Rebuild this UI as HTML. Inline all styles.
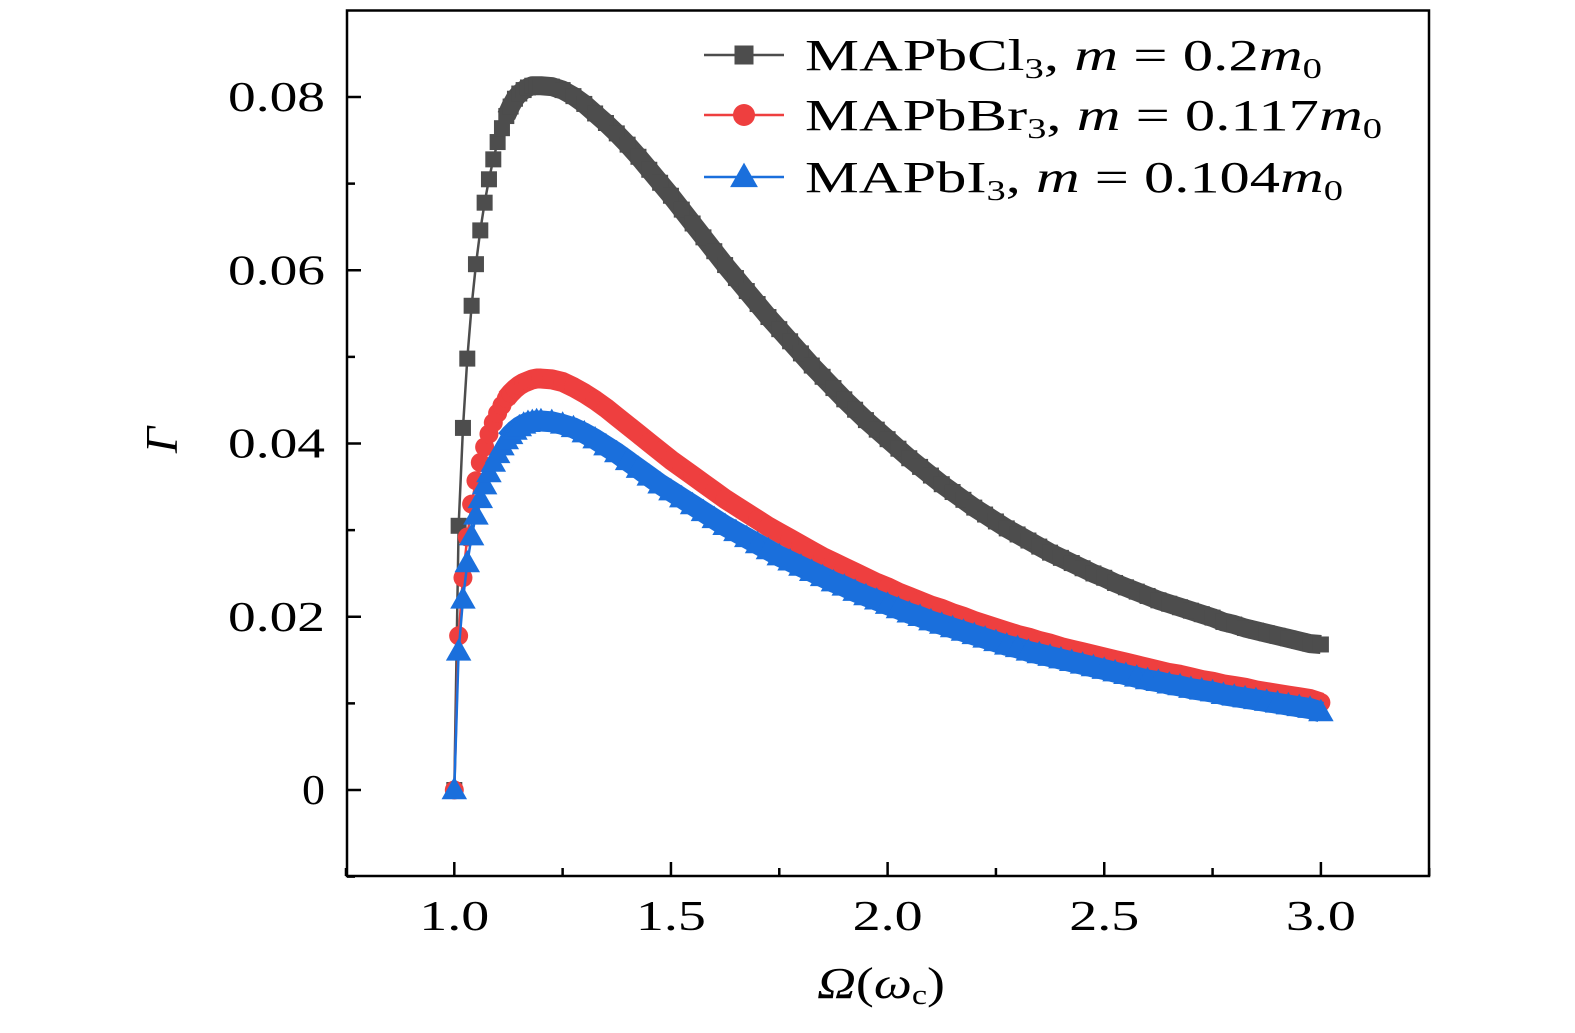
<!DOCTYPE html>
<html><head><meta charset="utf-8"><style>
html,body{margin:0;padding:0;background:#fff;overflow:hidden;width:1575px;height:1033px}
svg{display:block;font-family:"Liberation Serif","DejaVu Serif",serif}
</style></head><body>
<svg id="chart" width="1575" height="1033" viewBox="0 0 1575 1033" xmlns="http://www.w3.org/2000/svg">
<g id="axes"></g>
<g id="series"></g>
<g id="legend"></g>
</svg>
<script>
const omega = [1.00,1.01,1.02,1.03,1.04,1.05,1.06,1.07,1.08,1.09,1.10,1.11,1.12,1.13,1.14,1.15,1.16,1.17,1.18,1.19,1.20,
1.225,1.25,1.275,1.30,1.325,1.35,1.375,1.40,1.425,1.45,1.475,1.50,1.525,1.55,1.575,1.60,1.625,1.65,1.675,1.70,1.725,1.75,1.775,1.80,1.825,1.85,1.875,1.90,1.925,1.95,1.975,2.00,2.025,2.05,2.075,2.10,2.125,2.15,2.175,2.20,2.225,2.25,2.275,2.30,2.325,2.35,2.375,2.40,2.425,2.45,2.475,2.50,2.525,2.55,2.575,2.60,2.625,2.65,2.675,2.70,2.725,2.75,2.775,2.80,2.825,2.85,2.875,2.90,2.925,2.95,2.975,3.00];
const gammaCl = [0,.0305,.0418,.0498,.0559,.0607,.0646,.0678,.0705,.0728,.0748,.0764,.0778,.0789,.0798,.0804,.0808,.0811,.0813,.0813,.0813,
.0812,.0808,.0801,.0792,.0781,.0770,.0758,.0745,.0731,.0716,.0701,.0686,.0670,.0654,.0638,.0622,.0606,.0591,.0576,.0561,.0546,.0532,.0518,.0504,.0490,.0477,.0464,.0451,.0439,.0427,.0416,.0405,.0394,.0383,.0373,.0363,.0353,.0344,.0335,.0326,.0318,.0310,.0302,.0295,.0288,.0281,.0274,.0268,.0262,.0256,.0250,.0245,.0239,.0234,.0229,.0224,.0219,.0215,.0211,.0207,.0203,.0199,.0194,.0191,.0187,.0184,.0181,.0178,.0175,.0172,.0169,.0168];
const gammaBr = [0,.0178,.0245,.0292,.0330,.0357,.0378,.0396,.0411,.0424,.0435,.0444,.0452,.0458,.0463,.0467,.0470,.0472,.0474,.0475,.0475,
.0474,.0471,.0465,.0458,.0450,.0441,.0431,.0421,.0411,.0401,.0391,.0381,.0372,.0363,.0354,.0345,.0336,.0328,.0320,.0312,.0304,.0297,.0290,.0283,.0276,.0269,.0263,.0257,.0251,.0245,.0239,.0234,.0228,.0223,.0218,.0213,.0209,.0204,.0200,.0195,.0191,.0187,.0183,.0179,.0176,.0172,.0169,.0165,.0162,.0159,.0156,.0153,.0150,.0147,.0144,.0141,.0138,.0135,.0133,.0130,.0127,.0125,.0122,.0120,.0118,.0115,.0113,.0111,.0109,.0107,.0105,.0101];
const gammaI = [0,.0160,.0220,.0262,.0293,.0317,.0336,.0352,.0366,.0378,.0388,.0397,.0404,.0410,.0415,.0419,.0422,.0424,.0425,.0426,.0426,
.0425,.0422,.0418,.0412,.0405,.0397,.0389,.0380,.0371,.0362,.0353,.0345,.0337,.0329,.0321,.0313,.0305,.0298,.0291,.0284,.0277,.0270,.0264,.0258,.0252,.0246,.0240,.0235,.0229,.0224,.0219,.0214,.0209,.0204,.0200,.0195,.0191,.0187,.0183,.0179,.0175,.0171,.0167,.0164,.0160,.0157,.0154,.0151,.0148,.0145,.0142,.0139,.0136,.0133,.0130,.0127,.0125,.0122,.0120,.0117,.0115,.0113,.0110,.0108,.0106,.0104,.0102,.0100,.0098,.0096,.0094,.0090];
const xTicks = [1.0,1.5,2.0,2.5,3.0];
const xTickLabels = ["1.0","1.5","2.0","2.5","3.0"];
const yTicks = [0,0.02,0.04,0.06,0.08];
const yTickLabels = ["0","0.02","0.04","0.06","0.08"];

const NS="http://www.w3.org/2000/svg";
const L=347,R=1429,T=10.5,B=876;
function xs(v){return 454.3+(v-1)*433.3;}
function ys(v){return 790-v*8662.5;}
function mk(tag,attrs,parent){const e=document.createElementNS(NS,tag);for(const k in attrs)e.setAttribute(k,attrs[k]);parent.appendChild(e);return e;}
const axes=document.getElementById('axes');
const frame=mk('rect',{x:L,y:T,width:R-L,height:B-T,fill:'none',stroke:'#000','stroke-width':2.5},axes);


xTicks.forEach((v,i)=>{
  const t=mk('line',{x1:xs(v),x2:xs(v),y1:B,y2:B-14,stroke:'#000','stroke-width':2.5},axes);
  
  
  const m=mk('line',{x1:xs(v+0.25),x2:xs(v+0.25),y1:B,y2:B-8,stroke:'#000','stroke-width':2.5},axes);
  
  
  const lb=mk('text',{x:xs(v)-35,y:930,'font-size':42,textLength:70,lengthAdjust:'spacingAndGlyphs'},axes);
  lb.textContent=xTickLabels[i];
  
  
});
const m0=mk('line',{x1:xs(0.75),x2:xs(0.75),y1:B,y2:B-8,stroke:'#000','stroke-width':2.5},axes);


yTicks.forEach((v,i)=>{
  const w=yTickLabels[i].length>1?97:23;
  const lb=mk('text',{x:325-w,y:ys(v)+14,'font-size':42,textLength:w,lengthAdjust:'spacingAndGlyphs'},axes);
  lb.textContent=yTickLabels[i];
  
  
  const t=mk('line',{x1:L,x2:L+14,y1:ys(v),y2:ys(v),stroke:'#000','stroke-width':2.5},axes);
  
  
});
[-0.01,0.01,0.03,0.05,0.07].forEach(v=>{
  const m=mk('line',{x1:L,x2:L+8,y1:ys(v),y2:ys(v),stroke:'#000','stroke-width':2.5},axes);
  
  
});
const yt=mk('text',{x:0,y:0,'font-size':46,'font-style':'italic','text-anchor':'middle',transform:'translate(177,440) rotate(-90)'},axes);
yt.textContent='Γ';


const xt=mk('text',{x:817,y:998,'font-size':44,textLength:128,lengthAdjust:'spacingAndGlyphs'},axes);
xt.innerHTML='<tspan font-style="italic">Ω</tspan>(<tspan font-style="italic">ω</tspan><tspan font-size="28" dy="6">c</tspan><tspan dy="-6">)</tspan>';



function marker(shape,x,y,color,s,parent){
  let e;
  if(shape==='square') e=mk('rect',{x:x-s/2,y:y-s/2,width:s,height:s,fill:color},parent);
  else if(shape==='circle') e=mk('circle',{cx:x,cy:y,r:s/2,fill:color},parent);
  else e=mk('polygon',{points:`${x},${y-s*0.6} ${x-s*0.58},${y+s*0.42} ${x+s*0.58},${y+s*0.42}`,fill:color},parent);
  return e;
}
const ser=document.getElementById('series');
const defs=[
 {name:'mapbcl3',data:gammaCl,color:'#4d4d4d',shape:'square',s:16,band:19},
 {name:'mapbbr3',data:gammaBr,color:'#ee3f3f',shape:'circle',s:19,band:20},
 {name:'mapbi3',data:gammaI,color:'#1a6fdc',shape:'triangle',s:22,band:21}
];
defs.forEach(d=>{
  const g=mk('g',{},ser);
  
  
  const pts=omega.map((o,i)=>xs(o)+','+ys(d.data[i])).join(' ');
  const ln=mk('polyline',{points:pts,fill:'none',stroke:d.color,'stroke-width':2.5},g);
  
  
  const bandPts=omega.map((o,i)=>[o,d.data[i]]).filter(p=>p[0]>=1.12).map(p=>xs(p[0])+','+ys(p[1])).join(' ');
  const band=mk('polyline',{points:bandPts,fill:'none',stroke:d.color,'stroke-width':d.band,'stroke-linejoin':'round'},g);
  
  
  omega.forEach((o,i)=>{
    const p=marker(d.shape,xs(o),ys(d.data[i]),d.color,d.s,g);
    
    
  });
});

const leg=document.getElementById('legend');
const legItems=[
 {y:55,w:517,color:'#4d4d4d',shape:'square',s:19,html:'MAPbCl<tspan font-size="28" dy="8">3</tspan><tspan dy="-8">, </tspan><tspan font-style="italic">m</tspan> = 0.2<tspan font-style="italic">m</tspan><tspan font-size="28" dy="8">0</tspan>'},
 {y:115,w:577,color:'#ee3f3f',shape:'circle',s:22,html:'MAPbBr<tspan font-size="28" dy="8">3</tspan><tspan dy="-8">, </tspan><tspan font-style="italic">m</tspan> = 0.117<tspan font-style="italic">m</tspan><tspan font-size="28" dy="8">0</tspan>'},
 {y:177,w:538,color:'#1a6fdc',shape:'triangle',s:24,html:'MAPbI<tspan font-size="28" dy="8">3</tspan><tspan dy="-8">, </tspan><tspan font-style="italic">m</tspan> = 0.104<tspan font-style="italic">m</tspan><tspan font-size="28" dy="8">0</tspan>'}
];
legItems.forEach(it=>{
  const g=mk('g',{},leg);
  
  
  mk('line',{x1:704,x2:784,y1:it.y,y2:it.y,stroke:it.color,'stroke-width':2.5},g);
  marker(it.shape,744,it.y,it.color,it.s,g);
  const t=mk('text',{x:805,y:it.y+15,'font-size':44,textLength:it.w,lengthAdjust:'spacingAndGlyphs'},g);
  t.innerHTML=it.html;
});
</script>
</body></html>
